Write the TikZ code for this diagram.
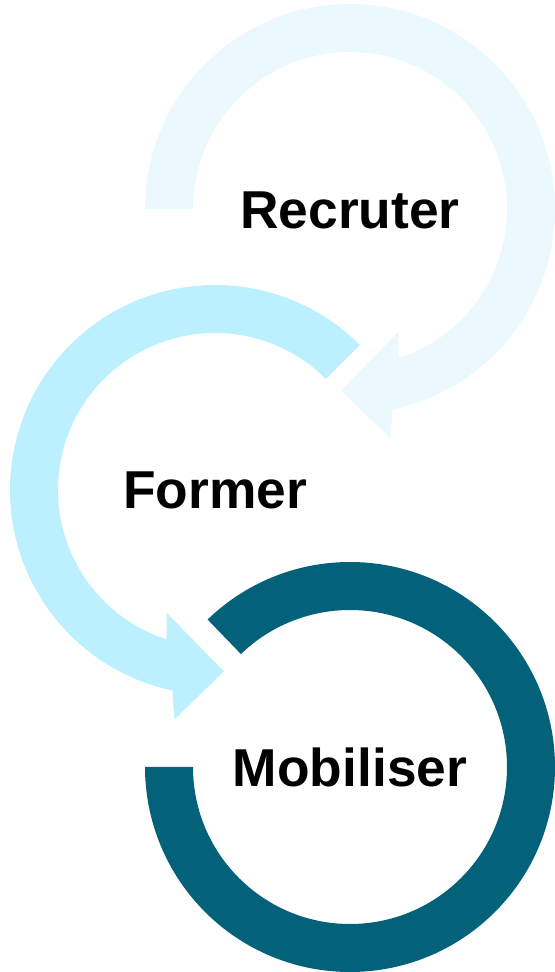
\documentclass[tikz,border=0pt]{standalone}
\usepackage{fontspec}
\setmainfont{Liberation Sans}
\definecolor{cone}{HTML}{EBF9FE}
\definecolor{ctwo}{HTML}{BDF0FE}
\definecolor{cthree}{HTML}{03627A}
\begin{document}
\begin{tikzpicture}[x=0.75pt,y=0.75pt,
  lbl/.style={anchor=base,inner sep=0pt,font=\fontsize{40}{48}\selectfont\bfseries,text=black}]
\useasboundingbox (0,0) rectangle (555,972);
\coordinate (c1) at (350,763);
\coordinate (c2) at (215,482);
\coordinate (c3) at (350,205);
% circle 1
\fill[cone] ([shift={(180:205)}]c1) arc[start angle=180,end angle=-78,radius=205]
  -- ([shift={(-80:233)}]c1) -- ([shift={(-92.8:181.5)}]c1) -- ([shift={(-68.5:132)}]c1)
  -- ([shift={(-72:157)}]c1) arc[start angle=-72,end angle=180,radius=157] -- cycle;
% circle 2
\fill[ctwo] ([shift={(45:205)}]c2) arc[start angle=45,end angle=258,radius=205]
  -- ([shift={(260:233)}]c2) -- ([shift={(272.8:181.5)}]c2) -- ([shift={(248.5:132)}]c2)
  -- ([shift={(252:157)}]c2) arc[start angle=252,end angle=45,radius=157] -- cycle;
% circle 3
\fill[cthree] ([shift={(134:205)}]c3) arc[start angle=134,end angle=-180,radius=205]
  -- ([shift={(180:157)}]c3) arc[start angle=-180,end angle=134,radius=157] -- cycle;
\node[lbl] (t1) at ([yshift=-15pt]c1) {Recruter};
\node[lbl] (t2) at ([yshift=-14pt]c2) {Former};
\node[lbl] (t3) at ([yshift=-15pt]c3) {Mobiliser};
\end{tikzpicture}
\end{document}
